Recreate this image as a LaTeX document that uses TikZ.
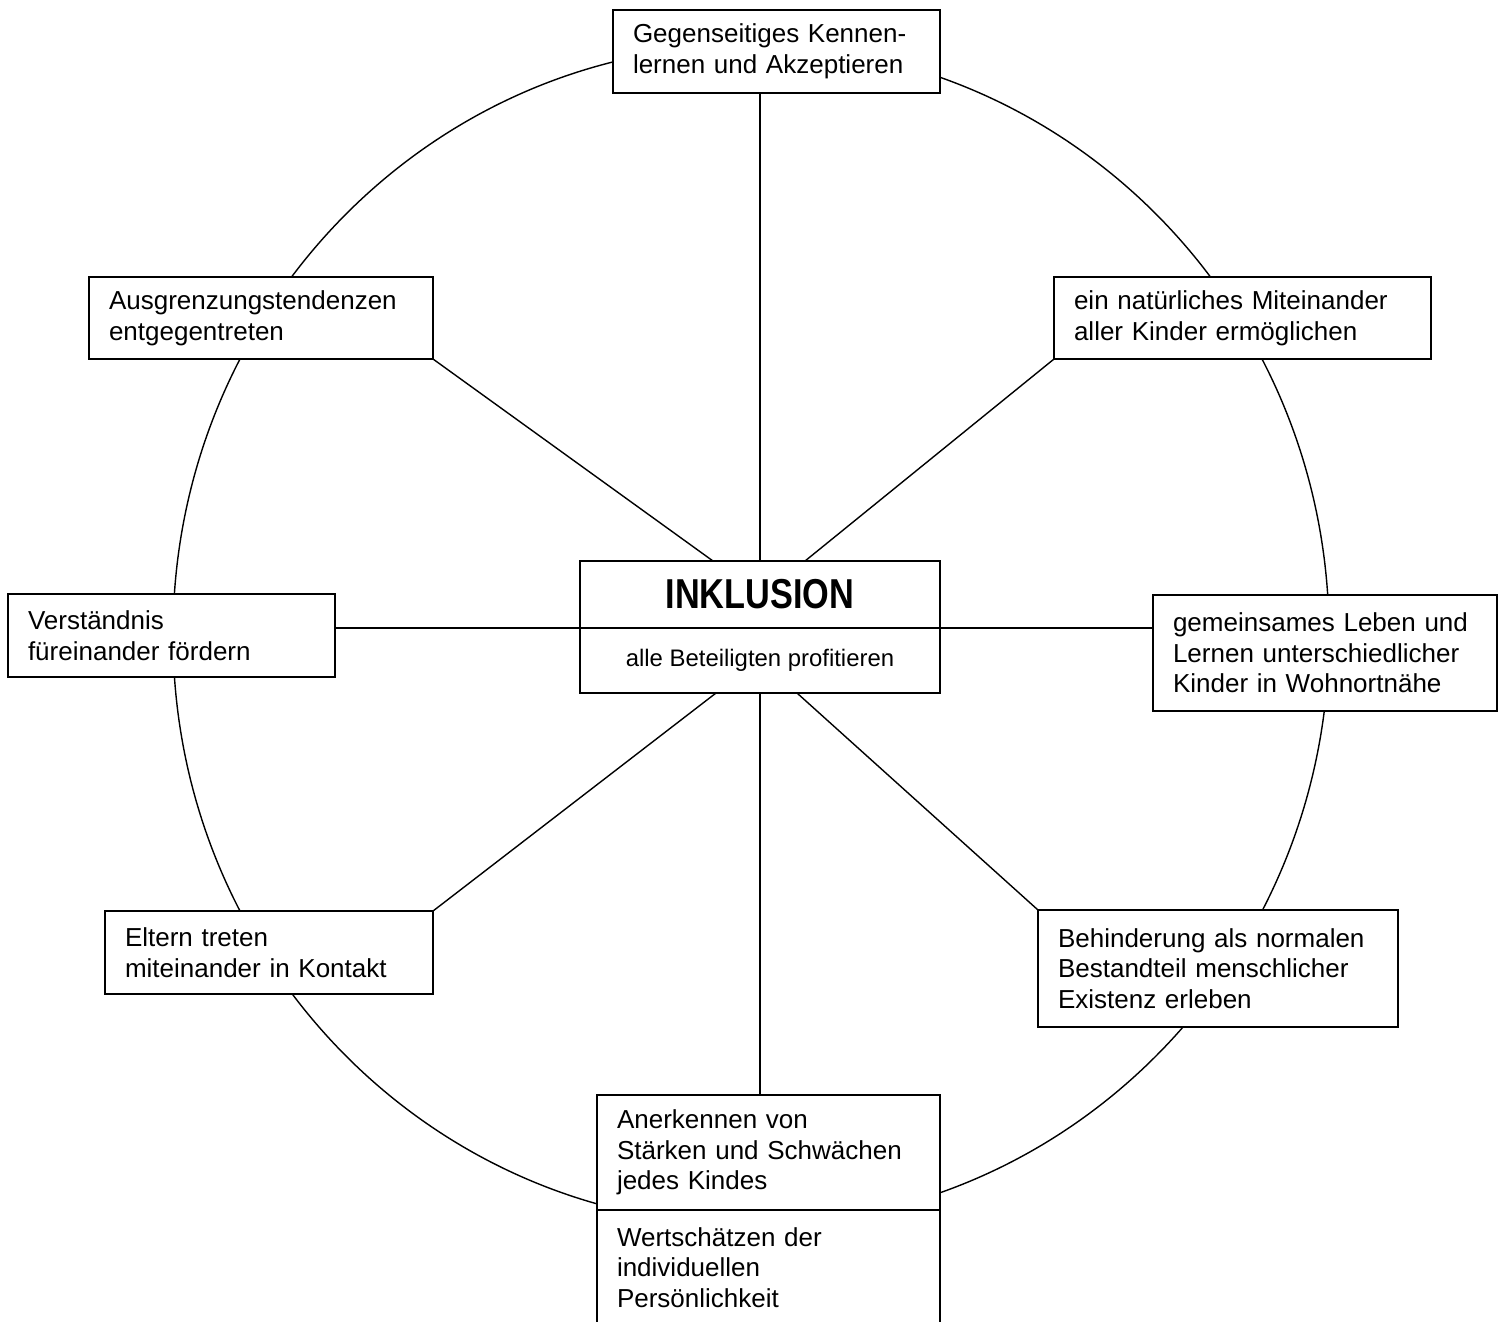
\documentclass[tikz,border=0pt]{standalone}
\usepackage{fontspec}
\setmainfont{Liberation Sans}
\newfontfamily\narrowbold[FakeStretch=0.82]{Liberation Sans Bold}
\usetikzlibrary{positioning}
\tikzset{
  box/.style={draw, line width=0.6pt, fill=white, rectangle, inner xsep=0.2cm,
    inner ysep=0pt, outer sep=0pt, align=left, font=\fontsize{7.4}{8.7}\selectfont},
  midbox/.style={draw, line width=0.6pt, fill=white, rectangle, inner sep=0pt,
    outer sep=0pt, minimum width=3.6cm, align=center},
  spoke/.style={line width=0.4pt},
  ring/.style={line width=0.4pt}
}
\begin{document}
\begin{tikzpicture}
          \useasboundingbox (0,0) rectangle (15.05,-13.21);
          \clip (0,0) rectangle (15.05,-13.21);
          \draw[ring] (7.51,-6.35) ellipse [x radius=5.78, y radius=5.90];

          \node[box, text width=2.87cm, minimum height=0.83cm] (kennen) at (7.765,-0.515)
          {Gegenseitiges Kennen-\\lernen und Akzeptieren};
          \node[box, text width=3.04cm, minimum height=0.82cm] (ausgr) at (2.61,-3.18)
          {Ausgrenzungstendenzen\\entgegentreten};
          \node[box, text width=3.37cm, minimum height=0.82cm] (natuer) at (12.425,-3.18)
          {ein natürliches Miteinander\\aller Kinder ermöglichen};
          \node[box, text width=2.87cm, minimum height=0.83cm] (verst) at (1.715,-6.355)
          {Verständnis\\füreinander fördern};
          \node[box, text width=3.04cm, minimum height=1.16cm] (gemein) at (13.25,-6.53)
          {gemeinsames Leben und\\Lernen unterschiedlicher\\Kinder in Wohnortnähe};
          \node[box, text width=2.88cm, minimum height=0.83cm] (eltern) at (2.69,-9.525)
          {Eltern treten\\miteinander in Kontakt};
          \node[box, text width=3.20cm, minimum height=1.17cm] (behind) at (12.18,-9.685)
          {Behinderung als normalen\\Bestandteil menschlicher\\Existenz erleben};

          \node[midbox, minimum height=0.67cm,
          font=\fontsize{11.9}{14}\narrowbold] (inkl) at (7.60,-5.945) {INKLUSION};
          \node[midbox, minimum height=0.65cm, below=0pt of inkl,
          font=\fontsize{6.8}{8}\selectfont] (profit) {alle Beteiligten profitieren};

          \node[box, text width=3.03cm, minimum height=1.15cm] (anerk) at (7.685,-11.525)
          {Anerkennen von\\Stärken und Schwächen\\jedes Kindes};
          \node[box, text width=3.03cm, minimum height=1.15cm, below=0pt of anerk] (wert)
          {Wertschätzen der\\individuellen\\Persönlichkeit};

          \draw[spoke] (kennen.south -| inkl.north) -- (inkl.north);
          \draw[spoke] (profit.south) -- (profit.south |- anerk.north);
          \draw[spoke] (verst.east |- inkl.south) -- (inkl.south west);
          \draw[spoke] (inkl.south east) -- (gemein.west |- inkl.south);
          \draw[spoke] (ausgr.south east) -- ([xshift=-0.47cm]inkl.north);
          \draw[spoke] (natuer.south west) -- ([xshift=0.45cm]inkl.north);
          \draw[spoke] (eltern.north east) -- ([xshift=-0.44cm]profit.south);
          \draw[spoke] (behind.north west) -- ([xshift=0.37cm]profit.south);
        \end{tikzpicture}
\end{document}
